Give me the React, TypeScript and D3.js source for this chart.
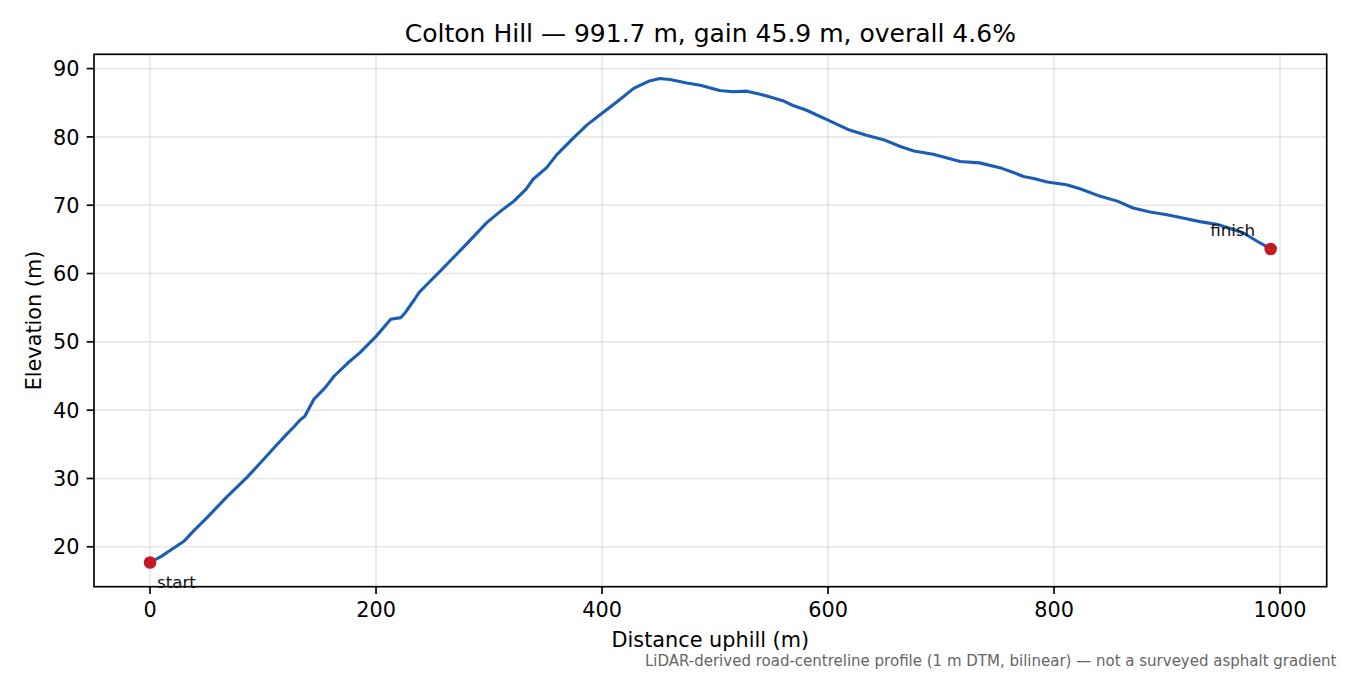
import * as d3 from "d3";

const W = 1350;
const H = 675;
const AX = { left: 94, right: 1326.7, top: 54.3, bottom: 586.7 };

const TITLE = "Colton Hill — 991.7 m, gain 45.9 m, overall 4.6%";
const X_LABEL = "Distance uphill (m)";
const Y_LABEL = "Elevation (m)";
const NOTE = "LiDAR-derived road-centreline profile (1 m DTM, bilinear) — not a surveyed asphalt gradient";

// distance along the climb (m)
const distance = [
	0, 10, 18, 30, 39, 50, 68, 86, 100, 112, 121, 127, 133, 137, 145, 155, 163, 175, 186, 200,
	213, 222, 226, 234, 238, 245, 257, 270, 280, 298, 310, 322, 333, 339, 351, 360, 375, 387, 398,
	413, 428, 442, 451, 460, 475, 487, 504, 516, 528, 540, 560, 569, 581, 600, 619, 634, 649, 664,
	676, 693, 717, 734, 752, 764, 773, 782, 794, 811, 823, 841, 856, 870, 885, 900, 915, 929, 944,
	956, 968, 979, 991.7,
];
// elevation (m)
const elevation = [
	17.7, 18.6, 19.5, 20.8, 22.4, 24.2, 27.3, 30.2, 32.7, 34.9, 36.5, 37.5, 38.6, 39.1, 41.6, 43.3,
	45.0, 46.9, 48.45, 50.8, 53.3, 53.55, 54.3, 56.2, 57.2, 58.4, 60.4, 62.6, 64.3, 67.45, 69.1, 70.6,
	72.4, 73.8, 75.5, 77.4, 79.9, 81.8, 83.2, 85.1, 87.1, 88.2, 88.55, 88.4, 87.9, 87.55, 86.8, 86.6,
	86.7, 86.25, 85.3, 84.6, 83.9, 82.45, 81.0, 80.25, 79.6, 78.6, 77.95, 77.45, 76.4, 76.2, 75.5,
	74.8, 74.2, 73.9, 73.4, 73.0, 72.4, 71.3, 70.6, 69.6, 69.0, 68.6, 68.1, 67.6, 67.2, 66.6, 65.9,
	64.8, 63.6,
];

const xTicks = [0, 200, 400, 600, 800, 1000];
const yTicks = [20, 30, 40, 50, 60, 70, 80, 90];

const LINE_COLOR = "#1c5db4";
const DOT_COLOR = "#c41a26";
const FONT = "'DejaVu Sans', sans-serif";

function padded([lo, hi]: [number, number]): [number, number] {
	const m = (hi - lo) * 0.05;
	return [lo - m, hi + m];
}

export default function App() {
	const pts = distance.map((d, i) => ({ d, e: elevation[i] }));
	const x = d3
		.scaleLinear()
		.domain(padded(d3.extent(distance) as [number, number]))
		.range([AX.left, AX.right]);
	const y = d3
		.scaleLinear()
		.domain(padded(d3.extent(elevation) as [number, number]))
		.range([AX.bottom, AX.top]);

	const line = d3
		.line<{ d: number; e: number }>()
		.x((p) => x(p.d))
		.y((p) => y(p.e));

	const first = pts[0];
	const last = pts[pts.length - 1];
	const cx = (AX.left + AX.right) / 2;

	return (
		<svg
			width={W}
			height={H}
			style={{ position: "absolute", left: 0, top: 0, background: "#fff" }}
			fontFamily={FONT}
		>
			<defs>
				<clipPath id="plot">
					<rect x={AX.left} y={AX.top} width={AX.right - AX.left} height={AX.bottom - AX.top} />
				</clipPath>
			</defs>

			{/* grid */}
			<g stroke="#b0b0b0" strokeOpacity={0.3} strokeWidth={1.67}>
				{xTicks.map((t) => (
					<line key={`gx${t}`} x1={x(t)} x2={x(t)} y1={AX.top} y2={AX.bottom} />
				))}
				{yTicks.map((t) => (
					<line key={`gy${t}`} x1={AX.left} x2={AX.right} y1={y(t)} y2={y(t)} />
				))}
			</g>

			{/* profile */}
			<path
				d={line(pts) ?? ""}
				fill="none"
				stroke={LINE_COLOR}
				strokeWidth={3.1}
				strokeLinejoin="round"
				strokeLinecap="round"
				clipPath="url(#plot)"
			/>
			<circle cx={x(first.d)} cy={y(first.e)} r={6.3} fill={DOT_COLOR} />
			<circle cx={x(last.d)} cy={y(last.e)} r={6.3} fill={DOT_COLOR} />

			{/* spines */}
			<rect
				x={AX.left}
				y={AX.top}
				width={AX.right - AX.left}
				height={AX.bottom - AX.top}
				fill="none"
				stroke="#000"
				strokeWidth={1.67}
			/>

			<text x={x(first.d) + 7} y={AX.bottom + 1.5} fontSize={16.7} fill="#111">
				start
			</text>
			<text x={x(last.d) - 15.5} y={y(last.e) - 12.5} fontSize={16.7} fill="#111" textAnchor="end">
				finish
			</text>

			{/* x ticks */}
			<g fontSize={20.8} fill="#000">
				{xTicks.map((t) => (
					<g key={`tx${t}`}>
						<line x1={x(t)} x2={x(t)} y1={AX.bottom} y2={AX.bottom + 7.3} stroke="#000" strokeWidth={1.67} />
						<text x={x(t)} y={AX.bottom + 30.3} textAnchor="middle">
							{t}
						</text>
					</g>
				))}
				{yTicks.map((t) => (
					<g key={`ty${t}`}>
						<line x1={AX.left - 7.3} x2={AX.left} y1={y(t)} y2={y(t)} stroke="#000" strokeWidth={1.67} />
						<text x={AX.left - 14.6} y={y(t) + 7.6} textAnchor="end">
							{t}
						</text>
					</g>
				))}
			</g>

			<text x={cx} y={646.5} fontSize={20.8} textAnchor="middle">
				{X_LABEL}
			</text>
			<text transform={`translate(41,${(AX.top + AX.bottom) / 2}) rotate(-90)`} fontSize={20.8} textAnchor="middle">
				{Y_LABEL}
			</text>
			<text x={cx} y={41.7} fontSize={25} textAnchor="middle">
				{TITLE}
			</text>
			<text x={1336.5} y={666} fontSize={15} fill="#666" textAnchor="end">
				{NOTE}
			</text>
		</svg>
	);
}
